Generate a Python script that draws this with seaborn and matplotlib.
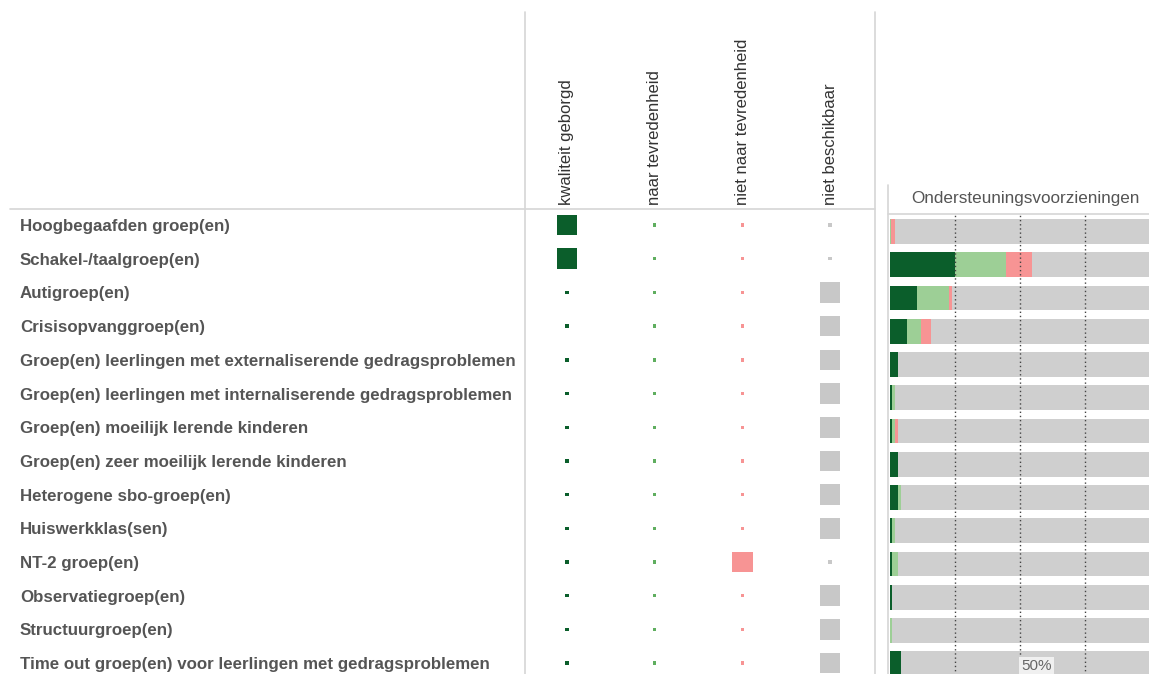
import numpy as np
import pandas as pd
import matplotlib
matplotlib.use("Agg")
import matplotlib.pyplot as plt
import seaborn as sns
from matplotlib.lines import Line2D
from matplotlib.transforms import blended_transform_factory

# ---------------- data ----------------
categories = [
    "Hoogbegaafden groep(en)",
    "Schakel-/taalgroep(en)",
    "Autigroep(en)",
    "Crisisopvanggroep(en)",
    "Groep(en) leerlingen met externaliserende gedragsproblemen",
    "Groep(en) leerlingen met internaliserende gedragsproblemen",
    "Groep(en) moeilijk lerende kinderen",
    "Groep(en) zeer moeilijk lerende kinderen",
    "Heterogene sbo-groep(en)",
    "Huiswerkklas(sen)",
    "NT-2 groep(en)",
    "Observatiegroep(en)",
    "Structuurgroep(en)",
    "Time out groep(en) voor leerlingen met gedragsproblemen",
]
status_labels = ["kwaliteit geborgd", "naar tevredenheid",
                 "niet naar tevredenheid", "niet beschikbaar"]

# matrix: 1 = large square, 0 = small dot
kwaliteit_geborgd = [1, 1, 0, 0, 0, 0, 0, 0, 0, 0, 0, 0, 0, 0]
naar_tevredenheid = [0, 0, 0, 0, 0, 0, 0, 0, 0, 0, 0, 0, 0, 0]
niet_naar_tevredenheid = [0, 0, 0, 0, 0, 0, 0, 0, 0, 0, 1, 0, 0, 0]
niet_beschikbaar = [0, 0, 1, 1, 1, 1, 1, 1, 1, 1, 0, 1, 1, 1]

# right panel: percentages
pct_kwaliteit = [0.0, 25.0, 10.2, 6.5, 3.0, 0.8, 0.7, 3.0, 3.0, 0.7, 0.8, 0.7, 0.0, 4.2]
pct_naar = [0.5, 19.8, 12.4, 5.4, 0.0, 1.2, 1.3, 0.0, 1.2, 1.3, 2.2, 0.0, 0.8, 0.0]
pct_niet_naar = [1.6, 9.7, 1.4, 3.9, 0.0, 0.0, 1.0, 0.0, 0.0, 0.0, 0.0, 0.0, 0.0, 0.0]
pct_totaal = [100, 100, 100, 100, 100, 100, 100, 100, 100, 100, 100, 100, 100, 100]

panel_title = "Ondersteuningsvoorzieningen"

# ---------------- style ----------------
sns.set_style("white")
plt.rcParams["font.family"] = ["Liberation Sans", "DejaVu Sans"]

DARK = "#0b5e2b"
LIGHT = "#9dcf96"
PINK = "#f79494"
GRAY = "#cfcfcf"
LINE = "#d6d6d6"
matrix_palette = {
    "kwaliteit geborgd": DARK,
    "naar tevredenheid": "#5fae5f",
    "niet naar tevredenheid": PINK,
    "niet beschikbaar": "#c8c8c8",
}

W, H = 1149, 674
fig = plt.figure(figsize=(W / 100, H / 100), dpi=100)


def fx(px):
    return px / W


def fy(py):
    return 1 - py / H


# ---------------- matrix ----------------
ax_m = fig.add_axes([fx(525), fy(680), fx(875) - fx(525), fy(208.2) - fy(680)])
mat_df = pd.DataFrame({
    "groep": categories * 4,
    "status": sum([[s] * len(categories) for s in status_labels], []),
    "waarde": kwaliteit_geborgd + naar_tevredenheid + niet_naar_tevredenheid + niet_beschikbaar,
})
sns.scatterplot(data=mat_df, x="status", y="groep", hue="status",
                palette=matrix_palette, size="waarde", sizes=(6, 222),
                size_norm=(0, 1), marker="s", linewidth=0, legend=False, ax=ax_m)
ax_m.set_xlim(-0.479, 3.513)
ax_m.set_ylim(len(categories) - 0.5, -0.5)
for sp in ax_m.spines.values():
    sp.set_visible(False)
ax_m.set_xlabel("")
ax_m.set_ylabel("")
ax_m.xaxis.tick_top()
ax_m.set_xticks(range(len(status_labels)))
ax_m.set_xticklabels(status_labels, rotation=90, ha="center", va="bottom",
                     fontsize=12, color="#333333")
ax_m.tick_params(axis="x", length=0, pad=2)
ax_m.set_yticks(range(len(categories)))
ax_m.set_yticklabels(categories, ha="left", fontsize=12.15, fontweight="bold",
                     color="#555555")
ax_m.tick_params(axis="y", length=0, pad=505 * 0.72)

# ---------------- stacked bars ----------------
ax_r = fig.add_axes([fx(890), fy(680.4), fx(1150) - fx(890), fy(214.9) - fy(680.4)])
bar_df = pd.DataFrame({
    "groep": categories,
    "totaal": pct_totaal,
    "kwaliteit": pct_kwaliteit,
    "naar": pct_naar,
    "niet_naar": pct_niet_naar,
})
bar_df["c1"] = bar_df["kwaliteit"]
bar_df["c2"] = bar_df["c1"] + bar_df["naar"]
bar_df["c3"] = bar_df["c2"] + bar_df["niet_naar"]
for col, color in [("totaal", GRAY), ("c3", PINK), ("c2", LIGHT), ("c1", DARK)]:
    sns.barplot(data=bar_df, x=col, y="groep", orient="h", color=color,
                width=0.75, saturation=1, linewidth=0, errorbar=None, ax=ax_r)
ax_r.set_xlim(0, 100)
ax_r.set_ylim(len(categories) - 0.5, -0.5)
for sp in ax_r.spines.values():
    sp.set_visible(False)
ax_r.set_xlabel("")
ax_r.set_ylabel("")
ax_r.set_yticks([])
ax_r.set_xticks([25, 50, 75])
ax_r.set_xticklabels([])
ax_r.tick_params(axis="x", length=0)
ax_r.set_axisbelow(False)
ax_r.grid(axis="x", linestyle=(0, (1, 2)), color="#444444", linewidth=1)
ax_r.grid(axis="y", visible=False)
ax_r.set_title(panel_title, x=0.52, y=1 + 16 / 465.5, va="center",
               fontsize=12.3, color="#555555", pad=0)
tr = blended_transform_factory(ax_r.transData, ax_r.transAxes)
ax_r.text(50.5, (680.4 - 666) / 465.5, "50%", transform=tr, ha="left",
          va="center", fontsize=11, color="#666666",
          bbox=dict(facecolor="#f0f0f0", edgecolor="none", pad=1.5))

# ---------------- frame lines ----------------
for (x0, y0, x1, y1) in [(10, 209, 875, 209), (525, 12, 525, 674),
                         (875, 12, 875, 674), (888, 185, 888, 674),
                         (888, 214, 1149, 214)]:
    fig.add_artist(Line2D([fx(x0), fx(x1)], [fy(y0), fy(y1)],
                          transform=fig.transFigure, color=LINE, lw=1.2))

fig.savefig("out.png", dpi=100)
